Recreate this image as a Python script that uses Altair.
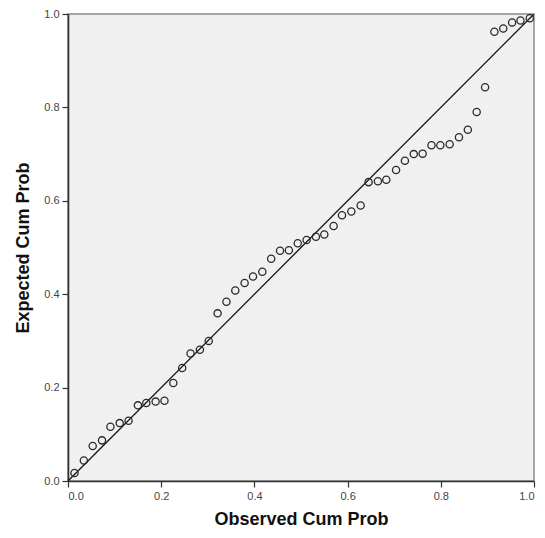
import altair as alt
import pandas as pd

observed = [0.014, 0.034, 0.053, 0.073, 0.091, 0.111, 0.130, 0.150, 0.168, 0.188,
            0.207, 0.226, 0.245, 0.263, 0.283, 0.302, 0.321, 0.340, 0.359, 0.379,
            0.397, 0.417, 0.436, 0.455, 0.474, 0.493, 0.512, 0.532, 0.550, 0.570,
            0.588, 0.608, 0.628, 0.645, 0.665, 0.683, 0.704, 0.723, 0.742, 0.761,
            0.780, 0.799, 0.819, 0.839, 0.858, 0.877, 0.895, 0.915, 0.934, 0.953,
            0.971, 0.991]
expected = [0.017, 0.044, 0.075, 0.087, 0.116, 0.124, 0.129, 0.162, 0.167, 0.170,
            0.172, 0.210, 0.242, 0.273, 0.281, 0.300, 0.359, 0.384, 0.408, 0.424,
            0.438, 0.448, 0.476, 0.493, 0.494, 0.509, 0.516, 0.523, 0.528, 0.546,
            0.569, 0.577, 0.590, 0.640, 0.642, 0.645, 0.666, 0.686, 0.700, 0.701,
            0.719, 0.719, 0.721, 0.736, 0.752, 0.790, 0.843, 0.962, 0.969, 0.982,
            0.986, 0.991]
ref_x = [0.0, 1.0]
ref_y = [0.0, 1.0]
ticks = [0.0, 0.2, 0.4, 0.6, 0.8, 1.0]

pts = pd.DataFrame({"obs": observed, "exp": expected})
ref = pd.DataFrame({"obs": ref_x, "exp": ref_y})

FONT = "Liberation Sans, Arial, sans-serif"

xscale = alt.Scale(domain=[0, 1], nice=False, zero=False)
yscale = alt.Scale(domain=[0, 1], nice=False, zero=False)

xaxis = alt.Axis(values=ticks, format=".1f", title="Observed Cum Prob", grid=False,
                 titleY=43, titleBaseline="alphabetic")
yaxis = alt.Axis(values=ticks, format=".1f", title="Expected Cum Prob", grid=False,
                 titleX=-40, titleBaseline="alphabetic")

line = alt.Chart(ref).mark_line(color="#111111", strokeWidth=1.3, clip=True).encode(
    x=alt.X("obs:Q", scale=xscale, axis=xaxis),
    y=alt.Y("exp:Q", scale=yscale, axis=yaxis),
)

points = alt.Chart(pts).mark_point(shape="circle", filled=False, size=52,
                                   color="#2a2a2a", strokeWidth=1.3, opacity=1).encode(
    x=alt.X("obs:Q", scale=xscale),
    y=alt.Y("exp:Q", scale=yscale),
)

chart = (line + points).properties(
    width=466, height=467,
    autosize=alt.AutoSizeParams(type="none"),
    padding={"left": 60, "top": 6, "right": 3, "bottom": 48},
    background="white",
).configure_view(
    fill="#f0f0f0", stroke="#8a8a8a", strokeWidth=1.5,
).configure_axis(
    domainColor="#333333", domainWidth=1.6,
    tickColor="#333333", tickSize=6, tickWidth=1.2,
    labelFont=FONT, labelFontSize=11, labelColor="#444444", labelPadding=3,
    titleFont=FONT, titleFontSize=18, titleFontWeight="bold", titleColor="#111111",
)

chart.save("out.html", embed_options={"renderer": "svg", "actions": False})
